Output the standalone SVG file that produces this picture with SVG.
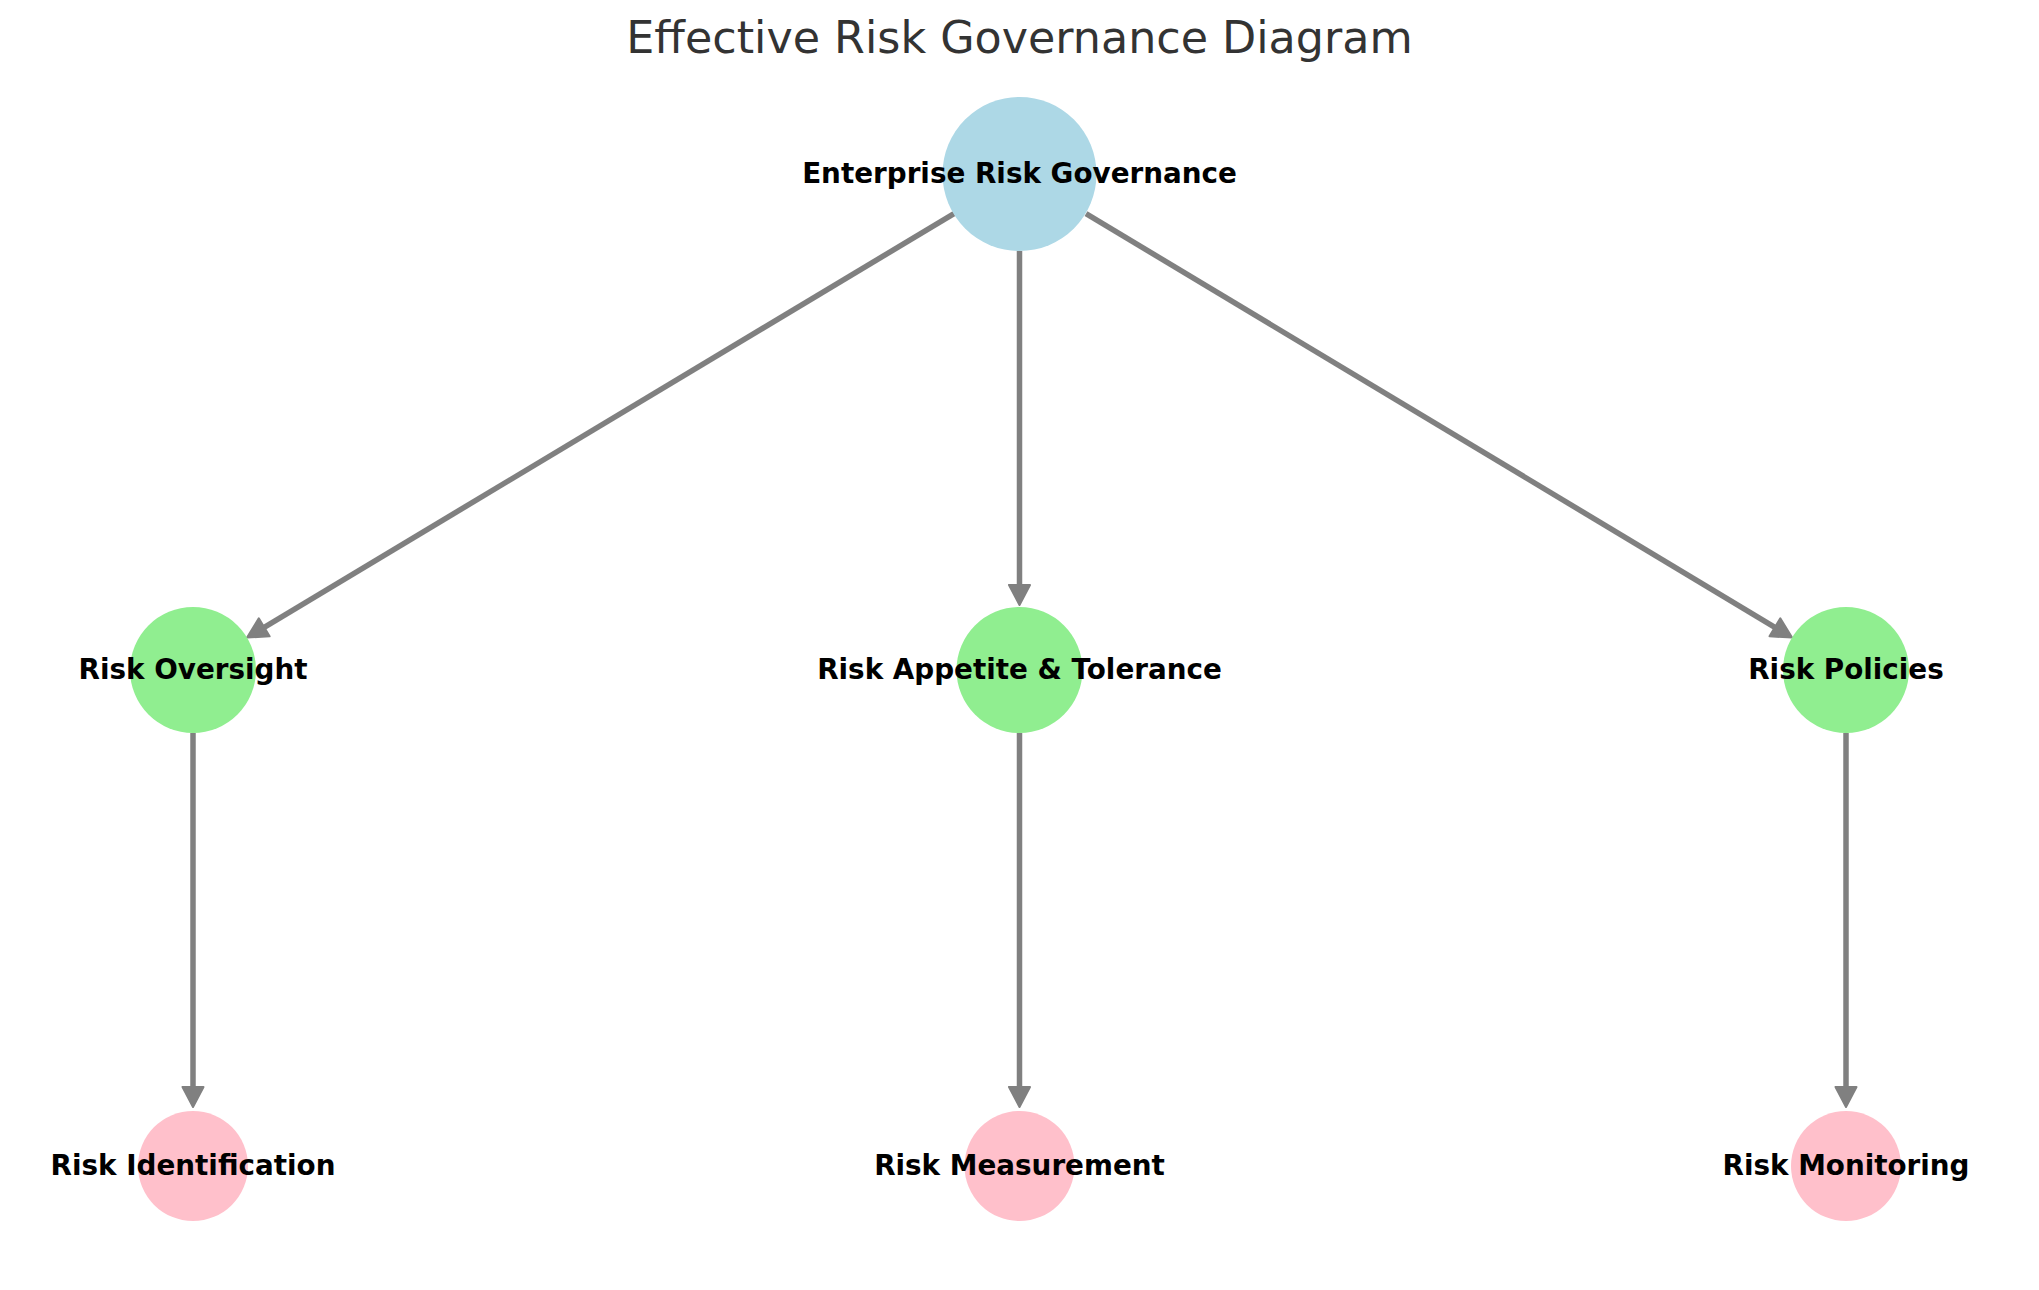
<svg xmlns="http://www.w3.org/2000/svg" width="2039" height="1290" viewBox="0 0 2039 1290">
<style>
.title{font-family:"DejaVu Sans",sans-serif;font-size:44.4px;fill:#333333;text-anchor:middle}
.lbl{font-family:"DejaVu Sans",sans-serif;font-size:27.8px;font-weight:bold;fill:#000000;text-anchor:middle}
.edge{stroke:#808080;stroke-width:5.5;fill:none}
.top{fill:#ADD8E6}
.mid{fill:#90EE90}
.bot{fill:#FFC0CB}
</style>
<defs>
<marker id="ah" markerUnits="userSpaceOnUse" markerWidth="30" markerHeight="30" refX="0" refY="0" orient="auto" overflow="visible" viewBox="-5 -15 30 30">
<path d="M0,-10.5 L20,0 L0,10.5 Z" fill="#808080" stroke="#808080" stroke-width="2" stroke-linejoin="round"/>
</marker>
</defs>
<rect width="2039" height="1290" fill="#ffffff"/>
<text class="title" x="1019.5" y="53">Effective Risk Governance Diagram</text>
<g id="connectors">
<line class="edge" x1="954" y1="213.6" x2="264.2" y2="627.3" marker-end="url(#ah)"/>
<line class="edge" x1="1019.5" y1="251" x2="1019.5" y2="585" marker-end="url(#ah)"/>
<line class="edge" x1="1086" y1="213.6" x2="1774.9" y2="627.3" marker-end="url(#ah)"/>
<line class="edge" x1="193" y1="733" x2="193" y2="1087" marker-end="url(#ah)"/>
<line class="edge" x1="1019.5" y1="733" x2="1019.5" y2="1087" marker-end="url(#ah)"/>
<line class="edge" x1="1846" y1="733" x2="1846" y2="1087" marker-end="url(#ah)"/>
</g>
<g id="node-erg">
<circle class="top" cx="1019.5" cy="174" r="77"/>
<text class="lbl" x="1019.5" y="183">Enterprise Risk Governance</text>
</g>
<g id="node-oversight">
<circle class="mid" cx="193" cy="670" r="63"/>
<text class="lbl" x="193" y="679">Risk Oversight</text>
</g>
<g id="node-appetite">
<circle class="mid" cx="1019.5" cy="670" r="63"/>
<text class="lbl" x="1019.5" y="679">Risk Appetite &amp; Tolerance</text>
</g>
<g id="node-policies">
<circle class="mid" cx="1846" cy="670" r="63"/>
<text class="lbl" x="1846" y="679">Risk Policies</text>
</g>
<g id="node-identification">
<circle class="bot" cx="193" cy="1166" r="55"/>
<text class="lbl" x="193" y="1175">Risk Identification</text>
</g>
<g id="node-measurement">
<circle class="bot" cx="1019.5" cy="1166" r="55"/>
<text class="lbl" x="1019.5" y="1175">Risk Measurement</text>
</g>
<g id="node-monitoring">
<circle class="bot" cx="1846" cy="1166" r="55"/>
<text class="lbl" x="1846" y="1175">Risk Monitoring</text>
</g>
</svg>
